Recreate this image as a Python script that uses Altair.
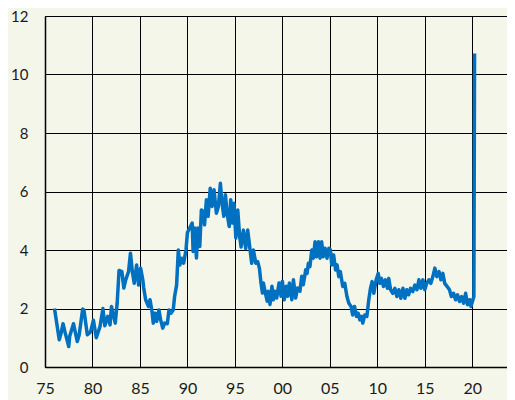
import altair as alt
import pandas as pd

years = [
    1976.0, 1976.5, 1976.7, 1976.9, 1977.1, 1977.5, 1977.6, 1978.0, 1978.4, 1978.6,
    1978.97, 1979.1, 1979.46, 1979.8, 1980.1, 1980.4, 1980.8, 1981.1, 1981.3, 1981.6,
    1981.85, 1982.0, 1982.2, 1982.4, 1982.6, 1982.8, 1983.1, 1983.3, 1983.5, 1983.8,
    1984.0, 1984.2, 1984.4, 1984.65, 1984.86, 1985.07, 1985.3, 1985.4, 1985.6, 1985.9,
    1986.06, 1986.27, 1986.4, 1986.6, 1986.76, 1987.0, 1987.18, 1987.4, 1987.6, 1987.88,
    1988.06, 1988.27, 1988.5, 1988.65, 1988.86, 1989.04, 1989.2, 1989.4, 1989.6, 1989.85,
    1990.0, 1990.5, 1990.6, 1990.77, 1990.95, 1991.1, 1991.3, 1991.47, 1991.65, 1991.8,
    1992.0, 1992.18, 1992.4, 1992.6, 1992.8, 1993.05, 1993.26, 1993.47, 1993.65, 1993.83,
    1994.0, 1994.18, 1994.4, 1994.56, 1994.74, 1994.9, 1995.1, 1995.3, 1995.5, 1995.65,
    1995.9, 1996.14, 1996.35, 1996.6, 1996.77, 1996.95, 1997.2, 1997.4, 1997.58, 1997.75,
    1997.9, 1998.0, 1998.25, 1998.4, 1998.5, 1998.7, 1998.9, 1999.05, 1999.2, 1999.4,
    1999.65, 1999.86, 2000.0, 2000.2, 2000.4, 2000.56, 2000.74, 2001.0, 2001.16, 2001.4,
    2001.6, 2001.85, 2002.04, 2002.2, 2002.46, 2002.6, 2002.74, 2002.9, 2003.1, 2003.26,
    2003.44, 2003.6, 2003.8, 2003.97, 2004.14, 2004.3, 2004.5, 2004.7, 2004.9, 2005.06,
    2005.2, 2005.4, 2005.6, 2005.76, 2005.94, 2006.1, 2006.36, 2006.57, 2006.8, 2007.0,
    2007.24, 2007.4, 2007.6, 2007.8, 2007.98, 2008.15, 2008.33, 2008.47, 2008.68, 2008.9,
    2009.1, 2009.28, 2009.45, 2009.63, 2009.88, 2010.09, 2010.26, 2010.44, 2010.65, 2010.86,
    2011.07, 2011.2, 2011.4, 2011.63, 2011.85, 2012.06, 2012.27, 2012.48, 2012.7, 2012.9,
    2013.1, 2013.3, 2013.5, 2013.74, 2013.95, 2014.17, 2014.38, 2014.59, 2014.8, 2015.0,
    2015.2, 2015.43, 2015.64, 2015.85, 2016.06, 2016.27, 2016.5, 2016.7, 2016.9, 2017.1,
    2017.36, 2017.6, 2017.8, 2018.03, 2018.24, 2018.45, 2018.66, 2018.88, 2019.09, 2019.3,
    2019.5, 2019.72, 2019.86, 2020.07, 2020.17, 2020.24,
]

rates = [
    2.0, 0.93, 1.16, 1.48, 1.2, 0.7, 1.05, 1.48, 0.87, 1.1,
    1.98, 1.95, 1.1, 1.2, 1.6, 1.0, 1.39, 2.0, 1.41, 1.73,
    1.44, 2.07, 1.78, 1.5, 2.18, 3.3, 3.26, 2.7, 2.98, 3.26,
    3.89, 3.26, 2.86, 3.49, 2.8, 3.38, 2.98, 2.7, 2.3, 2.07,
    2.3, 1.9, 1.5, 1.84, 1.56, 1.95, 1.61, 1.33, 1.5, 1.48,
    1.95, 1.84, 1.95, 2.41, 2.8, 4.0, 3.49, 3.72, 3.55, 4.0,
    4.6, 4.92, 3.95, 4.75, 3.73, 4.75, 4.12, 5.37, 5.32, 4.86,
    5.72, 5.15, 6.11, 5.49, 6.06, 5.26, 5.49, 6.28, 5.6, 5.15,
    5.89, 5.26, 4.8, 5.72, 4.92, 5.6, 4.41, 5.37, 4.47, 4.1,
    4.68, 4.05, 4.68, 4.0, 3.55, 4.0, 3.55, 3.6, 3.38, 2.87,
    2.53, 2.87, 2.47, 2.25, 2.59, 2.14, 2.76, 2.3, 2.59, 2.36,
    2.87, 2.42, 2.93, 2.3, 2.76, 2.42, 2.87, 2.3, 2.98, 2.36,
    2.7, 2.59, 3.1, 2.81, 3.32, 3.2, 3.55, 3.43, 4.0, 3.72,
    4.28, 3.77, 4.28, 3.72, 4.28, 3.77, 4.06, 3.72, 4.06, 4.0,
    3.49, 3.83, 3.32, 3.49, 3.09, 3.26, 2.75, 2.86, 2.41, 2.18,
    2.07, 1.78, 2.07, 1.73, 1.84, 1.61, 1.73, 1.5, 1.78, 1.73,
    2.3, 2.69, 2.92, 2.52, 2.98, 3.2, 2.86, 3.03, 2.75, 2.98,
    2.69, 3.03, 2.64, 2.52, 2.69, 2.41, 2.64, 2.35, 2.69, 2.35,
    2.64, 2.47, 2.69, 2.58, 2.8, 2.64, 2.98, 2.69, 2.98, 2.64,
    2.86, 2.98, 2.86, 3.09, 3.38, 3.09, 3.26, 2.98, 3.2, 2.86,
    2.75, 2.64, 2.41, 2.52, 2.3, 2.47, 2.24, 2.41, 2.18, 2.52,
    2.13, 2.3, 2.07, 2.3, 2.41, 10.72,
]

x_ticks = [1975, 1980, 1985, 1990, 1995, 2000, 2005, 2010, 2015, 2020]
y_ticks = [0, 2, 4, 6, 8, 10, 12]

df = pd.DataFrame({"year": years, "rate": rates})

BG = "#F3F6E9"

chart = alt.Chart(df).mark_line(color="#0070C0", strokeWidth=3.5, strokeJoin="round").encode(
    x=alt.X(
        "year:Q",
        scale=alt.Scale(domain=[1975, 2024.5], nice=False, zero=False),
        axis=alt.Axis(
            values=x_ticks,
            labelExpr="format(datum.value % 100, '02d')",
            title=None,
            grid=True,
            gridColor="#000000",
            gridWidth=1,
            gridOpacity=1,
            domainColor="#000000",
            domainWidth=1.5,
            ticks=False,
            labelPadding=13,
            labelFontSize=16,
            labelFont="Lato",
            labelColor="#1a1a1a",
            labelFlush=False,
        ),
    ),
    y=alt.Y(
        "rate:Q",
        scale=alt.Scale(domain=[0, 12], nice=False),
        axis=alt.Axis(
            values=y_ticks,
            title=None,
            grid=True,
            gridColor="#000000",
            gridWidth=1,
            gridOpacity=1,
            domainColor="#000000",
            domainWidth=1.5,
            ticks=False,
            labelPadding=17,
            labelFontSize=15,
            labelFont="Lato",
            labelColor="#1a1a1a",
        ),
    ),
).properties(
    width=470,
    height=351,
    autosize=alt.AutoSizeParams(type="none"),
    padding={"left": 37, "top": 8, "right": -8, "bottom": 33},
    background=BG,
).configure_view(
    stroke=None,
    fill=BG,
)

chart.save("out.html", embed_options={"renderer": "svg", "actions": False})
